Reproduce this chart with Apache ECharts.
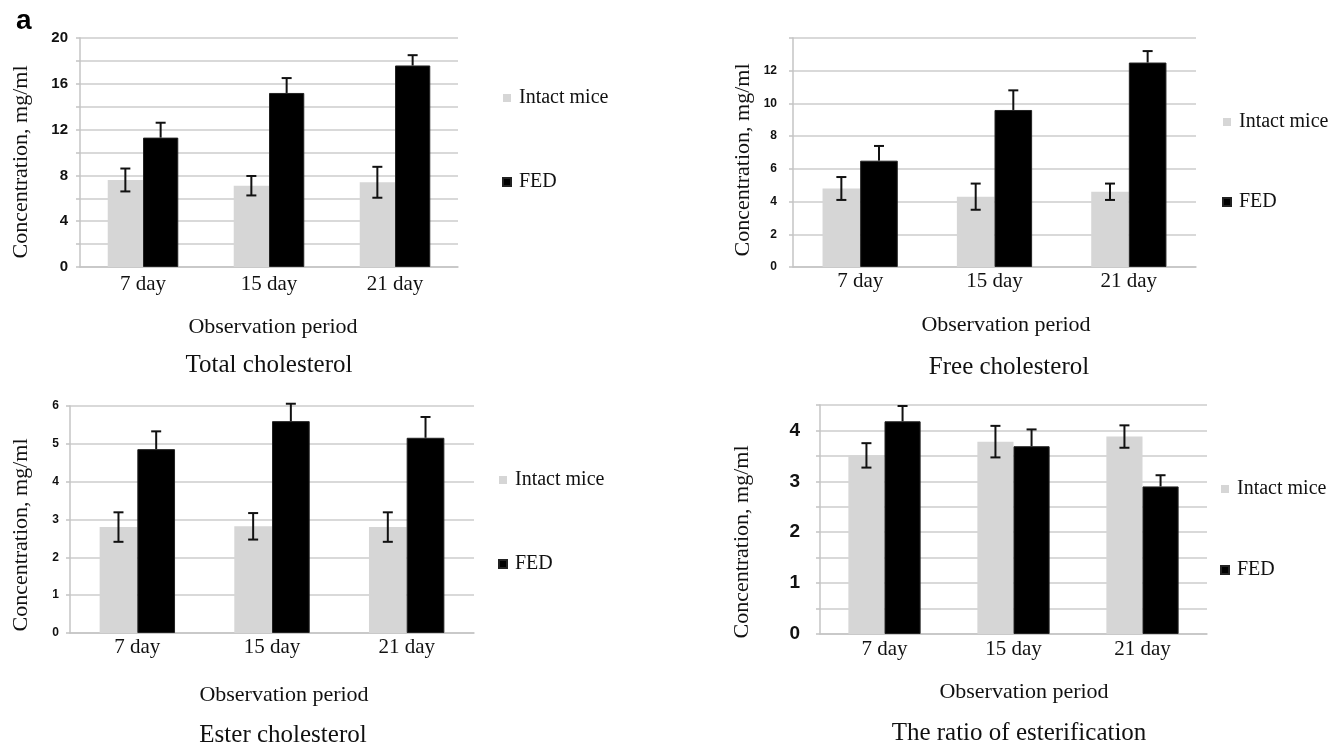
<!doctype html>
<html>
<head>
<meta charset="UTF-8">
<title>Cholesterol</title>
<script src="https://cdn.jsdelivr.net/npm/echarts@6/dist/echarts.min.js"></script>
<style>
  html, body { margin: 0; padding: 0; background: #fff; }
  #main { width: 1331px; height: 748px; }
</style>
</head>
<body>
<div id="main"></div>
<script>
// ---- data ----
var days = ['7 day', '15 day', '21 day'];
var seriesNames = ['Intact mice', 'FED'];

var totalIntact = [7.6, 7.1, 7.4];
var totalIntactErr = [1.0, 0.85, 1.35];
var totalFed = [11.3, 15.2, 17.6];
var totalFedErr = [1.3, 1.3, 0.9];

var freeIntact = [4.8, 4.3, 4.6];
var freeIntactErr = [0.7, 0.8, 0.5];
var freeFed = [6.5, 9.6, 12.5];
var freeFedErr = [0.9, 1.2, 0.7];

var esterIntact = [2.8, 2.82, 2.8];
var esterIntactErr = [0.39, 0.35, 0.39];
var esterFed = [4.86, 5.6, 5.16];
var esterFedErr = [0.47, 0.46, 0.55];

var ratioIntact = [3.51, 3.78, 3.88];
var ratioIntactErr = [0.24, 0.31, 0.22];
var ratioFed = [4.18, 3.69, 2.9];
var ratioFedErr = [0.3, 0.33, 0.22];

var titles = ['Total cholesterol', 'Free cholesterol', 'Ester cholesterol', 'The ratio of esterification'];
var yMax = [20, 14, 6, 4.5];
var yStep = [2, 2, 1, 0.5];
var yLabelEvery = [4, 2, 1, 1];
var yLabelHide = [null, 14, null, null];

// ---- layout ----
var GAP = 0.44;
var GRAY = '#d6d6d6';
var BLACK = '#000000';
var SERIF = '"Liberation Serif", "Times New Roman", serif';
var SANS = '"Liberation Sans", Arial, sans-serif';

var grids = [
  { left: 80, top: 38, width: 378, height: 229 },
  { left: 793, top: 38, width: 403, height: 229 },
  { left: 70, top: 406, width: 404, height: 227 },
  { left: 820, top: 405, width: 387, height: 229 }
];
var yLabelSize = [15, 12, 12, 19];
var yLabelMargin = [12, 16, 11, 20];
var xLabelMargin = [7, 4, 4, 5];

var intactData = [totalIntact, freeIntact, esterIntact, ratioIntact];
var intactErr = [totalIntactErr, freeIntactErr, esterIntactErr, ratioIntactErr];
var fedData = [totalFed, freeFed, esterFed, ratioFed];
var fedErr = [totalFedErr, freeFedErr, esterFedErr, ratioFedErr];

// error bars; the FED ones only show above the black bar
function errSeries(idx, vals, errs, side) {
  return {
    type: 'custom',
    name: 'err' + idx + side,
    xAxisIndex: idx,
    yAxisIndex: idx,
    z: 5,
    silent: true,
    encode: { x: 0, y: 1 },
    data: vals.map(function (v, i) { return [i, v, errs[i]]; }),
    renderItem: function (params, api) {
      var i = api.value(0), v = api.value(1), e = api.value(2);
      var band = api.size([1, 0])[0];
      var off = side * band * (1 - GAP) / 4;
      var hi = api.coord([i, v + e]);
      var lo = api.coord([i, side > 0 ? v : v - e]);
      var x = hi[0] + off;
      var cap = 5;
      var st = { stroke: '#111', lineWidth: 2 };
      var kids = [
        { type: 'line', shape: { x1: x, y1: hi[1], x2: x, y2: lo[1] }, style: st },
        { type: 'line', shape: { x1: x - cap, y1: hi[1], x2: x + cap, y2: hi[1] }, style: st }
      ];
      if (side < 0) {
        kids.push({ type: 'line', shape: { x1: x - cap, y1: lo[1], x2: x + cap, y2: lo[1] }, style: st });
      }
      return { type: 'group', children: kids };
    }
  };
}

var xAxes = [], yAxes = [], series = [];
for (var k = 0; k < 4; k++) {
  (function (k) {
    xAxes.push({
      type: 'category', gridIndex: k, data: days,
      axisLine: { lineStyle: { color: '#c4c4c4', width: 1.5 } },
      axisTick: { show: false },
      axisLabel: { color: '#111', fontFamily: SERIF, fontSize: 21, margin: xLabelMargin[k] }
    });
    yAxes.push({
      type: 'value', gridIndex: k, min: 0, max: yMax[k], interval: yStep[k],
      axisLine: { show: true, lineStyle: { color: '#c4c4c4', width: 1.5 } },
      axisTick: { show: true, length: 4, lineStyle: { color: '#c4c4c4', width: 1.5 } },
      splitLine: { show: true, lineStyle: { color: '#cdcdcd', width: 1.5 } },
      axisLabel: {
        color: '#111', fontFamily: SANS, fontWeight: 'bold',
        fontSize: yLabelSize[k], margin: yLabelMargin[k],
        formatter: function (v) {
          if (yLabelHide[k] !== null && Math.abs(v - yLabelHide[k]) < 1e-6) return '';
          var r = v / yLabelEvery[k];
          return Math.abs(r - Math.round(r)) < 1e-6 ? String(v) : '';
        }
      }
    });
    series.push({
      name: seriesNames[0], type: 'bar', xAxisIndex: k, yAxisIndex: k,
      data: intactData[k], barGap: '0%', barCategoryGap: (GAP * 100) + '%',
      itemStyle: { color: GRAY }
    });
    series.push({
      name: seriesNames[1], type: 'bar', xAxisIndex: k, yAxisIndex: k,
      data: fedData[k], barGap: '0%', barCategoryGap: (GAP * 100) + '%',
      itemStyle: { color: BLACK, borderColor: '#222', borderWidth: 1 }
    });
    series.push(errSeries(k, intactData[k], intactErr[k], -1));
    series.push(errSeries(k, fedData[k], fedErr[k], 1));
  })(k);
}

var legendPos = [
  { left: 497, top: 83, itemGap: 64 },
  { left: 1217, top: 107, itemGap: 60 },
  { left: 493, top: 465, itemGap: 64 },
  { left: 1215, top: 474, itemGap: 61 }
];
var legends = legendPos.map(function (p) {
  return {
    orient: 'vertical', left: p.left, top: p.top, itemGap: p.itemGap,
    data: seriesNames, icon: 'rect', itemWidth: 8, itemHeight: 8,
    selectedMode: false,
    textStyle: { fontFamily: SERIF, fontSize: 20, color: '#111', padding: [0, 0, 0, 3] }
  };
});

function txt(x, y, s, size, rot) {
  return {
    type: 'text', x: x, y: y, rotation: rot || 0, silent: true,
    style: { text: s, fill: '#111', font: size + 'px ' + SERIF, align: 'center', verticalAlign: 'middle' }
  };
}

var graphics = [
  { type: 'text', x: 16, y: 21, silent: true,
    style: { text: 'a', fill: '#000', font: 'bold 28px ' + SANS, align: 'left', verticalAlign: 'middle' } },
  txt(21, 162, 'Concentration, mg/ml', 22, Math.PI / 2),
  txt(743, 160, 'Concentration, mg/ml', 22, Math.PI / 2),
  txt(21, 535, 'Concentration, mg/ml', 22, Math.PI / 2),
  txt(742, 542, 'Concentration, mg/ml', 22, Math.PI / 2),
  txt(273, 327, 'Observation period', 22),
  txt(1006, 325, 'Observation period', 22),
  txt(284, 695, 'Observation period', 22),
  txt(1024, 692, 'Observation period', 22),
  txt(269, 365, titles[0], 25),
  txt(1009, 367, titles[1], 25),
  txt(283, 735, titles[2], 25),
  txt(1019, 733, titles[3], 25)
];

var chart = echarts.init(document.getElementById('main'));
chart.setOption({
  animation: false,
  backgroundColor: '#fff',
  grid: grids,
  xAxis: xAxes,
  yAxis: yAxes,
  legend: legends,
  graphic: graphics,
  series: series
});
</script>
</body>
</html>
